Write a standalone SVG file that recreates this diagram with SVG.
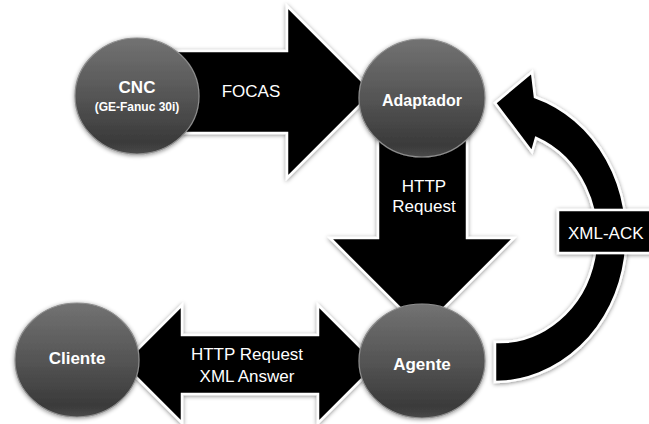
<svg xmlns="http://www.w3.org/2000/svg" width="649" height="424" viewBox="0 0 649 424">
<defs>
<linearGradient id="sphere" x1="0" y1="0" x2="0" y2="1">
<stop offset="0" stop-color="#727272"/>
<stop offset="0.5" stop-color="#555555"/>
<stop offset="0.9" stop-color="#3a3a3a"/>
<stop offset="1" stop-color="#4a4a4a"/>
</linearGradient>
<filter id="shadow" x="-20%" y="-20%" width="140%" height="140%">
<feDropShadow dx="0" dy="1" stdDeviation="2" flood-color="#000" flood-opacity="0.45"/>
</filter>
</defs>
<style>
.arrow{fill:#000;stroke:#fff;stroke-width:2.5;stroke-linejoin:miter;filter:url(#shadow)}
.node{fill:url(#sphere);stroke:#8e8e8e;stroke-width:1.2;filter:url(#shadow)}
.nlabel{font-family:"Liberation Sans",Arial,sans-serif;font-weight:bold;fill:#fff;text-anchor:middle}
.alabel{font-family:"Liberation Sans",Arial,sans-serif;font-size:17px;fill:#fff;text-anchor:middle}
</style>
<rect width="649" height="424" fill="#fff"/>
<g id="connectors">
<polygon id="focas" class="arrow" points="137,51 287,51 287,6 373,92 287,178 287,133 137,133"/>
<polygon id="http-request" class="arrow" points="378,98 467,98 467,238 514,238 422,330 330,238 378,238"/>
<polygon id="http-xml" class="arrow" points="123,364 182,305 182,335 318,335 318,305 377,364 318,423 318,394 182,394 182,423"/>
<path id="xml-ack" class="arrow" d="M495 382 A132 146 0 0 0 535 97 L532 72 L495 103 L532 152 L536 138 A97 106 0 0 1 495 342 Z"/>
<rect x="558" y="210" width="96" height="43" fill="#000" stroke="#fff" stroke-width="2.5" filter="url(#shadow)"/>
<text class="alabel" x="251" y="97">FOCAS</text>
<text class="alabel" x="424" y="192">HTTP</text>
<text class="alabel" x="424" y="212">Request</text>
<text class="alabel" x="247" y="360">HTTP Request</text>
<text class="alabel" x="247" y="382">XML Answer</text>
<text class="alabel" x="568" y="239" style="text-anchor:start">XML-ACK</text>
</g>
<g id="cnc">
<ellipse class="node" cx="137" cy="96" rx="62" ry="58"/>
<text class="nlabel" x="137" y="93" font-size="17">CNC</text>
<text class="nlabel" x="137" y="111" font-size="12">(GE-Fanuc 30i)</text>
</g>
<g id="adaptador">
<ellipse class="node" cx="422" cy="98" rx="63" ry="59"/>
<text class="nlabel" x="422" y="106" font-size="16">Adaptador</text>
</g>
<g id="agente">
<ellipse class="node" cx="422" cy="361" rx="63" ry="57"/>
<text class="nlabel" x="422" y="370" font-size="17">Agente</text>
</g>
<g id="cliente">
<ellipse class="node" cx="77" cy="360" rx="62" ry="57"/>
<text class="nlabel" x="77" y="364" font-size="17">Cliente</text>
</g>
</svg>
